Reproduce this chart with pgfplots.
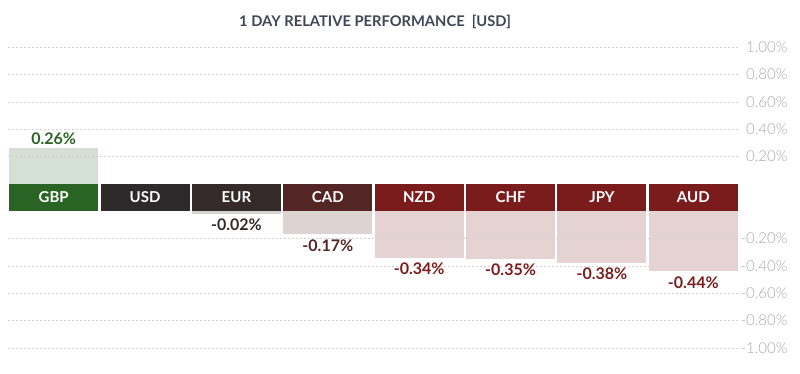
\documentclass[border=0pt]{standalone}
\usepackage{pgfplots}
\pgfplotsset{compat=1.18}
\usepackage{fontspec}
\setmainfont{Lato}
\newfontfamily\latolight{Lato Light}

\definecolor{cGBP}{HTML}{2A6424}
\definecolor{cUSD}{HTML}{2D2A2B}
\definecolor{cEUR}{HTML}{352A2A}
\definecolor{cCAD}{HTML}{532525}
\definecolor{cRED}{HTML}{7B1C1C}
\definecolor{gridc}{HTML}{D2D2D2}
\definecolor{tickc}{HTML}{A8A8A8}
\definecolor{titlec}{HTML}{3E4756}

\pgfplotsset{
  base/.style={
    scale only axis, width=731pt,
    xmin=-0.5, xmax=7.5,
    axis line style={draw=none},
    xtick=\empty, major tick length=0pt,
    ymajorgrids,
    grid style={gridc, dash pattern=on 2pt off 2pt, line width=0.6pt},
    yticklabel pos=right,
    yticklabel style={anchor=east, xshift=52pt, text=tickc, font=\latolight\fontsize{15}{17}\selectfont},
    yticklabel={\pgfmathprintnumber[fixed,fixed zerofill,precision=2,assume math mode=true]{\tick}\%},
    axis on top,
  },
  valbar/.style={
    ybar, bar width=89pt, bar shift=0pt, draw=none, fill=#1!20!white,
    nodes near coords={\pgfmathprintnumber[fixed,fixed zerofill,precision=2,assume math mode=true]{\pgfplotspointmeta}\%},
    every node near coord/.append style={text=#1, font=\bfseries\fontsize{16}{18}\selectfont},
  },
  band/.style={
    ybar, bar width=89pt, bar shift=0pt, draw=none, fill=#1,
    point meta=explicit symbolic,
    nodes near coords,
    every node near coord/.append style={anchor=center, yshift=-13.5pt, text=white, font=\bfseries\fontsize{15}{17}\selectfont},
  },
}

\begin{document}
\begin{tikzpicture}[x=1pt,y=1pt]
\path[use as bounding box] (0,0) rectangle (800,373);

\node[font=\bfseries\fontsize{14.7}{17}\selectfont, text=titlec] at (375,351) {1 DAY RELATIVE PERFORMANCE\ \ [USD]};

% positive part
\begin{axis}[base, at={(8pt,189pt)}, anchor=south west, height=137pt,
  ymin=0, ymax=1, ytick={0.2,0.4,0.6,0.8,1.0}]
\addplot[valbar=cGBP] coordinates {(0,0.26)};
\end{axis}

% currency band
\begin{axis}[scale only axis, width=731pt, height=27pt, at={(8pt,162pt)}, anchor=south west,
  xmin=-0.5, xmax=7.5, ymin=0, ymax=1, hide axis, clip=false]
\addplot[band=cGBP] coordinates {(0,1) [GBP]};
\addplot[band=cUSD] coordinates {(1,1) [USD]};
\addplot[band=cEUR] coordinates {(2,1) [EUR]};
\addplot[band=cCAD] coordinates {(3,1) [CAD]};
\addplot[band=cRED] coordinates {(4,1) [NZD]};
\addplot[band=cRED] coordinates {(5,1) [CHF]};
\addplot[band=cRED] coordinates {(6,1) [JPY]};
\addplot[band=cRED] coordinates {(7,1) [AUD]};
\end{axis}

% negative part
\begin{axis}[base, at={(8pt,162pt)}, anchor=north west, height=137pt,
  ymin=-1, ymax=0, ytick={-1.0,-0.8,-0.6,-0.4,-0.2}, clip=false,
  every node near coord/.append style={anchor=north, yshift=-1.5pt}]
\addplot[valbar=cEUR] coordinates {(2,-0.02)};
\addplot[valbar=cCAD] coordinates {(3,-0.17)};
\addplot[valbar=cRED] coordinates {(4,-0.34)};
\addplot[valbar=cRED] coordinates {(5,-0.35)};
\addplot[valbar=cRED] coordinates {(6,-0.38)};
\addplot[valbar=cRED] coordinates {(7,-0.44)};
\end{axis}
\end{tikzpicture}
\end{document}
